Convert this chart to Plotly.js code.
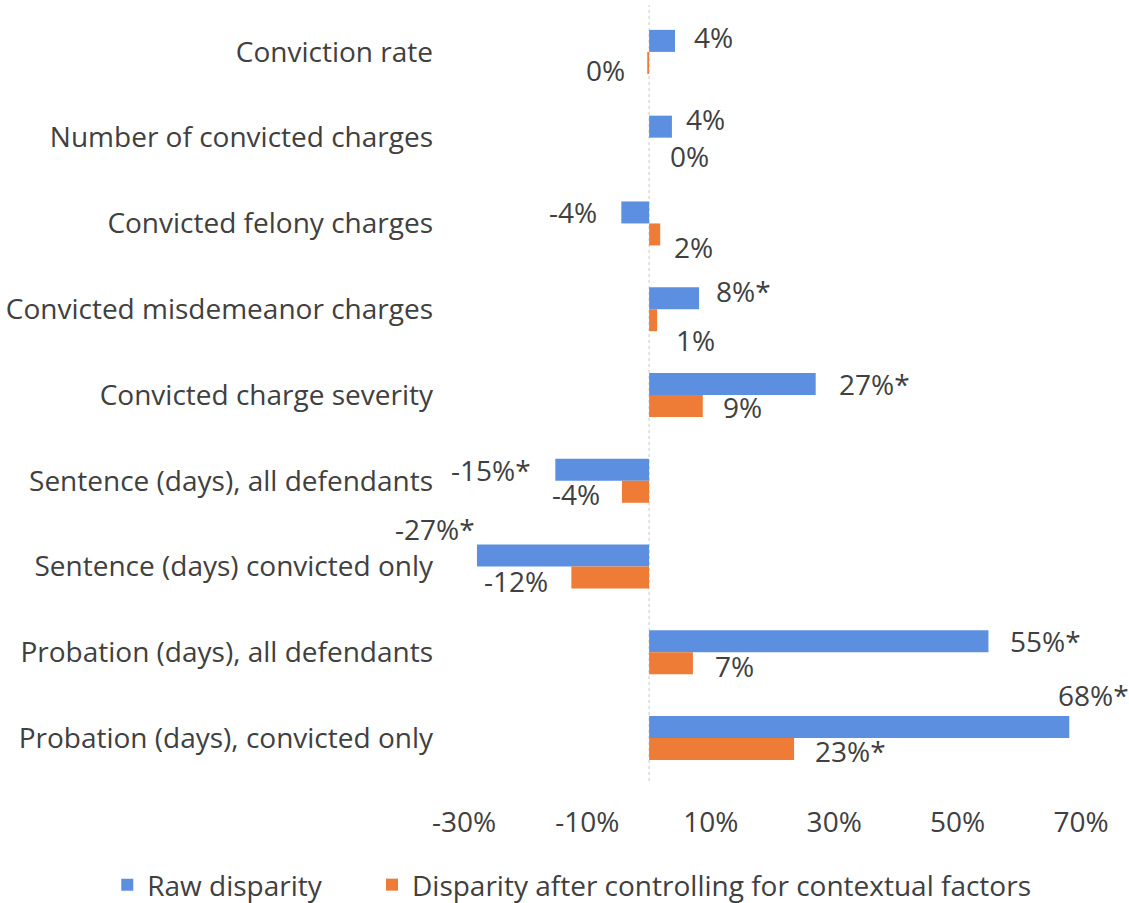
<!DOCTYPE html>
<html>
<head>
<meta charset="utf-8">
<script src="https://cdn.plot.ly/plotly-3.0.1.min.js"></script>
<style>html,body{margin:0;padding:0;background:#fff;}#chart{width:1129px;height:903px;}</style>
</head>
<body>
<div id="chart"></div>
<script>
// ---- data ----
const categories = [
  "Conviction rate",
  "Number of convicted charges",
  "Convicted felony charges",
  "Convicted misdemeanor charges",
  "Convicted charge severity",
  "Sentence (days), all defendants",
  "Sentence (days) convicted only",
  "Probation (days), all defendants",
  "Probation (days), convicted only"
];
const rawDisparity = [4.2, 3.7, -4.5, 8.1, 27, -15.2, -27.9, 55, 68.1];
const adjustedDisparity = [-0.3, 0, 1.8, 1.3, 8.7, -4.4, -12.6, 7.1, 23.5];
const rawLabels = ["4%", "4%", "-4%", "8%*", "27%*", "-15%*", "-27%*", "55%*", "68%*"];
const adjustedLabels = ["0%", "0%", "2%", "1%", "9%", "-4%", "-12%", "7%", "23%*"];
const seriesNames = ["Raw disparity", "Disparity after controlling for contextual factors"];
const xTicks = [-30, -10, 10, 30, 50, 70];

// ---- style ----
const FONT = "'Open Sans', Lato, sans-serif";
const TEXT = "#404040";
const BLUE = "#5d8fe0";
const ORANGE = "#ee7b36";
const FS = 28;
const BARGAP = 0.487;
const halfBar = (1 - BARGAP) / 4; // centre offset of each bar from the category centre

// label placement nudges (pixels): [anchorSide, gap, dyDown]
const rawNudge = [["l",17,-4],["l",12,-8],["r",22,0],["l",15,-7],["l",21,0],["r",22,0],["r",0,-27],["l",20,0],["l",-13,-32]];
const adjNudge = [["r",20,7],["l",19,7],["l",12,13],["l",17,20],["l",18,1],["r",20,2],["r",21,3],["l",20,3],["l",19,2]];

const idx = categories.map((c, i) => i);

const traces = [
  {type: "bar", orientation: "h", name: seriesNames[0], y: idx, x: rawDisparity,
   marker: {color: BLUE}, hoverinfo: "x+name", legend: "legend"},
  {type: "bar", orientation: "h", name: seriesNames[1], y: idx, x: adjustedDisparity,
   marker: {color: ORANGE}, hoverinfo: "x+name", legend: "legend2"}
];

function mkAnn(vals, labels, nudge, off) {
  return vals.map((v, i) => {
    const n = nudge[i];
    return {
      x: v, y: i + off, xref: "x", yref: "y", text: labels[i], showarrow: false,
      xanchor: n[0] === "l" ? "left" : "right",
      yanchor: "middle",
      xshift: n[0] === "l" ? n[1] : -n[1],
      yshift: -n[2],
      font: {family: FONT, size: FS, color: TEXT}
    };
  });
}
const annotations = [].concat(
  mkAnn(rawDisparity, rawLabels, rawNudge, -halfBar),
  mkAnn(adjustedDisparity, adjustedLabels, adjNudge, halfBar)
);

const legendBase = {orientation: "h", xref: "container", yref: "container", xanchor: "left",
  y: 0.02, yanchor: "middle", font: {family: FONT, size: FS, color: TEXT}, itemwidth: 30,
  bgcolor: "rgba(0,0,0,0)"};

const layout = {
  width: 1129, height: 903,
  paper_bgcolor: "#fff", plot_bgcolor: "#fff",
  margin: {l: 464, r: 48, t: 9, b: 122},
  barmode: "group", bargap: BARGAP, bargroupgap: 0,
  font: {family: FONT, size: FS, color: TEXT},
  showlegend: true,
  legend: Object.assign({}, legendBase, {x: 0.095}),
  legend2: Object.assign({}, legendBase, {x: 0.3295}),
  xaxis: {range: [-30, 70], tickvals: xTicks, ticktext: xTicks.map(v => v + "%"),
          showgrid: false, zeroline: false, showline: false, ticks: "",
          ticklabelstandoff: 22, tickfont: {family: FONT, size: FS, color: TEXT}, fixedrange: true},
  yaxis: {type: "linear", range: [categories.length - 0.5, -0.5], tickvals: idx, ticktext: categories,
          showgrid: false, zeroline: false, showline: false, ticks: "",
          ticklabelstandoff: 30, tickfont: {family: FONT, size: FS, color: TEXT}, fixedrange: true},
  shapes: [{type: "line", xref: "x", yref: "paper", x0: 0, x1: 0, y0: 0, y1: 1.005,
            line: {color: "#c8c8c8", width: 1, dash: "dot"}, layer: "below"}],
  annotations: annotations
};

Plotly.newPlot("chart", traces, layout, {displayModeBar: false, staticPlot: true});
</script>
</body>
</html>
